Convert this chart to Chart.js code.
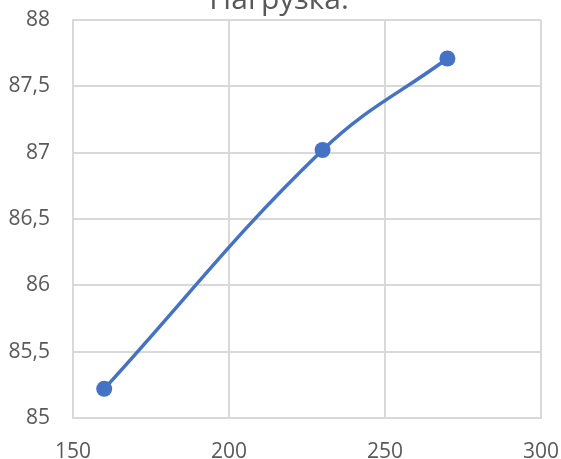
<!DOCTYPE html>
<html>
<head>
<meta charset="utf-8">
<script src="https://cdn.jsdelivr.net/npm/chart.js@4/dist/chart.umd.min.js"></script>
<style>
html,body{margin:0;padding:0;background:#fff;}
#wrap{width:561px;height:459px;}
</style>
</head>
<body>
<div id="wrap"><canvas id="c" width="561" height="459"></canvas></div>
<script>
const titleText = "Нагрузка.";
const xValues = [160, 230, 270];
const yValues = [85.22, 87.02, 87.71];
const xTicks = [150, 200, 250, 300];
const yTicks = [85, 85.5, 86, 86.5, 87, 87.5, 88];

const points = xValues.map((x, i) => ({x: x, y: yValues[i]}));
const fontFam = "'Open Sans', 'Noto Sans', sans-serif";
const textColor = '#595959';
const gridColor = '#d9d9d9';

new Chart(document.getElementById('c'), {
  type: 'scatter',
  data: {
    datasets: [{
      data: points,
      showLine: true,
      borderColor: '#4472C4',
      backgroundColor: '#4472C4',
      borderWidth: 3.5,
      pointRadius: 8,
      pointHoverRadius: 8,
      pointBorderWidth: 0,
      tension: 0.4
    }]
  },
  options: {
    responsive: false,
    animation: false,
    devicePixelRatio: 1,
    layout: {padding: {left: 0, right: 3, top: 0, bottom: 0}},
    plugins: {
      legend: {display: false},
      tooltip: {enabled: false},
      title: {
        display: true,
        text: titleText,
        color: textColor,
        font: {family: fontFam, size: 30, weight: 'normal', lineHeight: 0.02},
        padding: {top: 0, bottom: 19.4}
      }
    },
    scales: {
      x: {
        type: 'linear',
        min: xTicks[0],
        max: xTicks[xTicks.length - 1],
        afterBuildTicks: s => { s.ticks = xTicks.map(v => ({value: v})); },
        afterFit: s => { s.height = 41; s.paddingRight = 20; s.paddingLeft = 0; },
        ticks: {color: textColor, font: {family: fontFam, size: 21}, padding: 21, maxRotation: 0},
        grid: {color: gridColor, lineWidth: 2, drawTicks: false},
        border: {color: gridColor, width: 2}
      },
      y: {
        type: 'linear',
        min: yTicks[0],
        max: yTicks[yTicks.length - 1],
        afterBuildTicks: s => { s.ticks = yTicks.map(v => ({value: v})); },
        afterFit: s => { s.width = 73; s.paddingTop = 0; s.paddingBottom = 0; },
        ticks: {
          color: textColor,
          font: {family: fontFam, size: 21},
          padding: 23,
          callback: v => String(v).replace('.', ',')
        },
        grid: {color: gridColor, lineWidth: 2, drawTicks: false},
        border: {color: gridColor, width: 2}
      }
    }
  }
});
</script>
</body>
</html>
